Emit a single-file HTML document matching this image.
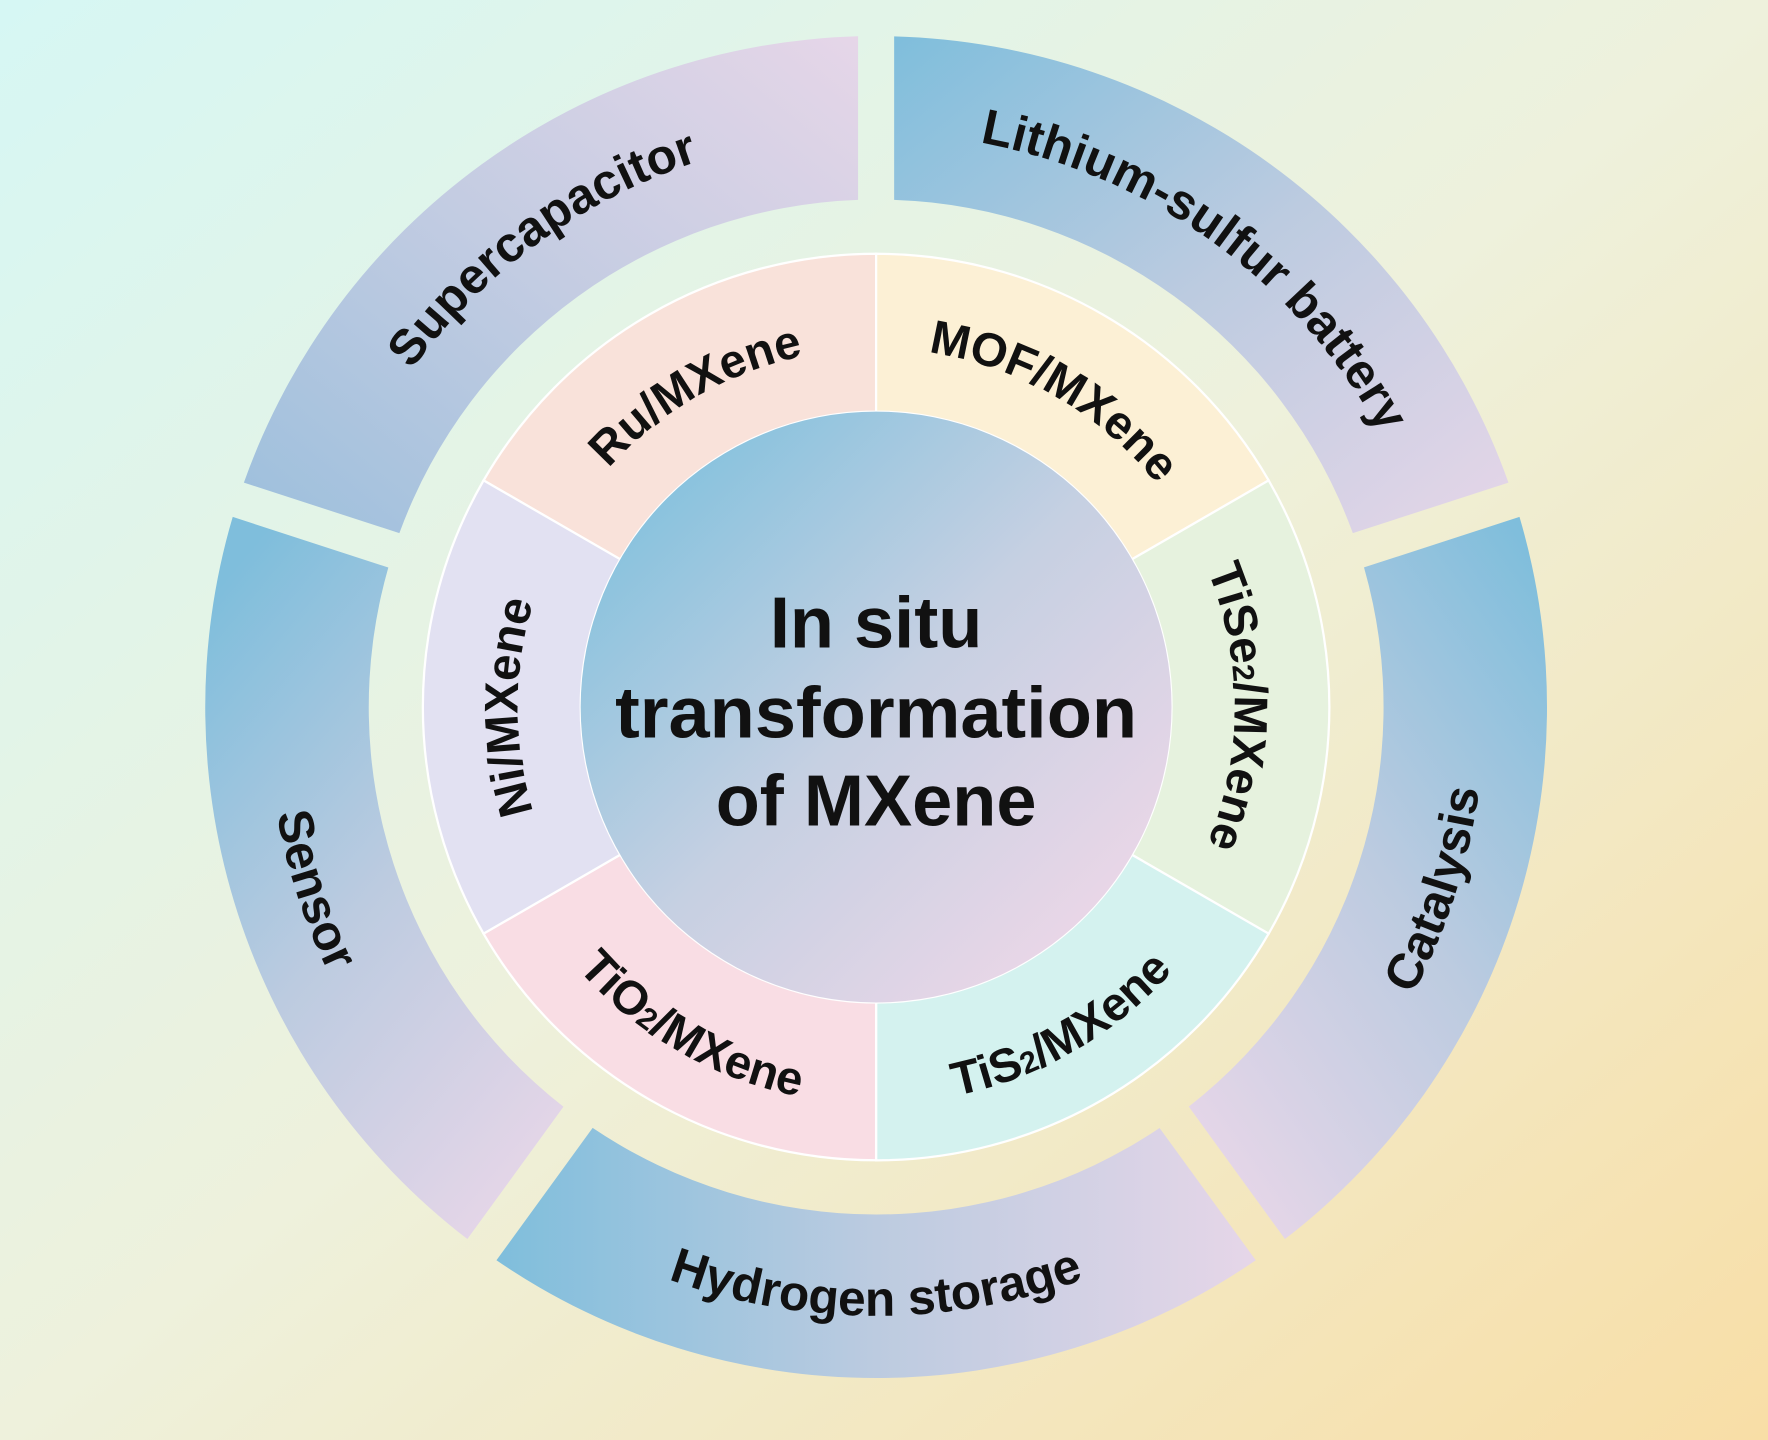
<!DOCTYPE html>
<html><head><meta charset="utf-8"><style>html,body{margin:0;padding:0;width:1768px;height:1440px;overflow:hidden}svg{display:block;position:absolute;left:0;top:0}text{font-family:"Liberation Sans",Arial,sans-serif;font-weight:bold;fill:#111}</style></head><body>
<svg width="1768" height="1440" viewBox="0 0 1568 1277" preserveAspectRatio="none" xmlns="http://www.w3.org/2000/svg">
<defs>
<linearGradient id="bg" x1="0" y1="0" x2="1" y2="1"><stop offset="0" stop-color="#d6f7f4"/><stop offset="0.5" stop-color="#eef1dc"/><stop offset="1" stop-color="#f8dea6"/></linearGradient>
<linearGradient id="g1" x1="0" y1="1" x2="1" y2="0"><stop offset="0" stop-color="#9cbfdc"/><stop offset="0.5" stop-color="#c3cce2"/><stop offset="1" stop-color="#e6d6e8"/></linearGradient>
<linearGradient id="g2" x1="0" y1="0" x2="1" y2="1"><stop offset="0" stop-color="#7fbedc"/><stop offset="0.5" stop-color="#bccbe0"/><stop offset="1" stop-color="#e6d6e8"/></linearGradient>
<linearGradient id="g3" x1="0.9" y1="0" x2="0.2" y2="1"><stop offset="0" stop-color="#7fbedc"/><stop offset="0.5" stop-color="#bccbe0"/><stop offset="1" stop-color="#e6d6e8"/></linearGradient>
<linearGradient id="g4" x1="0" y1="0.5" x2="1" y2="0.5"><stop offset="0" stop-color="#7fbedc"/><stop offset="0.5" stop-color="#bccbe0"/><stop offset="1" stop-color="#e6d6e8"/></linearGradient>
<linearGradient id="g5" x1="0.2" y1="0" x2="0.8" y2="1"><stop offset="0" stop-color="#7fbedc"/><stop offset="0.5" stop-color="#bccbe0"/><stop offset="1" stop-color="#e6d6e8"/></linearGradient>
<linearGradient id="cg" x1="0.15" y1="0.15" x2="0.85" y2="0.85"><stop offset="0" stop-color="#8bc3de"/><stop offset="0.5" stop-color="#c6d0e2"/><stop offset="1" stop-color="#e8d6e7"/></linearGradient>
<path id="cwo" d="M268,627 A509 509 0 0 1 1286,627"/>
<path id="ccwo" d="M237,627 A540 540 0 0 0 1317,627"/>
<path id="cwi" d="M459,627 A318 318 0 0 1 1095,627"/>
<path id="ccwi" d="M425,627 A352 352 0 0 0 1129,627"/>
<path id="sec" d="M428.9,426 A402 402 0 0 1 777,225 L777,365 A262 262 0 0 0 550.1,496 Z"/>
</defs>
<rect width="1568" height="1277" fill="url(#bg)"/>
<path fill="url(#g1)" d="M216.3,428 A595 595 0 0 1 761,32.2 L761,177.3 A450 450 0 0 0 354.2,472.8 Z"/>
<path fill="url(#g2)" d="M793,32.3 A595 595 0 0 1 1337.8,428 L1199.8,472.8 A450 450 0 0 0 793,177.2 Z"/>
<path fill="url(#g3)" d="M1347.6,458.4 A595 595 0 0 1 1139.6,1098.8 L1054.3,981.4 A450 450 0 0 0 1209.7,503.2 Z"/>
<path fill="url(#g4)" d="M1113.7,1117.6 A595 595 0 0 1 440.3,1117.6 L525.6,1000.2 A450 450 0 0 0 1028.4,1000.3 Z"/>
<path fill="url(#g5)" d="M414.5,1098.8 A595 595 0 0 1 206.4,458.4 L344.4,503.3 A450 450 0 0 0 499.7,981.5 Z"/>
<g stroke="#fff" stroke-width="2">
<use href="#sec" fill="#f9e2da"/>
<use href="#sec" fill="#fcf0d5" transform="rotate(60 777 627)"/>
<use href="#sec" fill="#e6f2de" transform="rotate(120 777 627)"/>
<use href="#sec" fill="#d4f2ef" transform="rotate(180 777 627)"/>
<use href="#sec" fill="#f9dde4" transform="rotate(240 777 627)"/>
<use href="#sec" fill="#e2e1f2" transform="rotate(300 777 627)"/>
</g>
<circle cx="777" cy="627" r="262" fill="url(#cg)"/>
<g font-size="44">
<text transform="rotate(-36 777 627)"><textPath href="#cwo" startOffset="50%" text-anchor="middle">Supercapacitor</textPath></text>
<text transform="rotate(36 777 627)"><textPath href="#cwo" startOffset="50%" text-anchor="middle">Lithium-sulfur battery</textPath></text>
<text transform="rotate(-72 777 627)"><textPath href="#ccwo" startOffset="50%" text-anchor="middle">Catalysis</textPath></text>
<text><textPath href="#ccwo" startOffset="50%" text-anchor="middle">Hydrogen storage</textPath></text>
<text transform="rotate(72 777 627)"><textPath href="#ccwo" startOffset="50%" text-anchor="middle">Sensor</textPath></text>
</g>
<g font-size="42">
<text transform="rotate(-30 777 627)"><textPath href="#cwi" startOffset="50%" text-anchor="middle">Ru/MXene</textPath></text>
<text transform="rotate(30 777 627)"><textPath href="#cwi" startOffset="50%" text-anchor="middle">MOF/MXene</textPath></text>
<text transform="rotate(90 777 627)"><textPath href="#cwi" startOffset="50%" text-anchor="middle">TiSe<tspan font-size="27">2</tspan>/MXene</textPath></text>
<text transform="rotate(-90 777 627)"><textPath href="#cwi" startOffset="50%" text-anchor="middle">Ni/MXene</textPath></text>
<text transform="rotate(-30 777 627)"><textPath href="#ccwi" startOffset="50%" text-anchor="middle">TiS<tspan font-size="27">2</tspan>/MXene</textPath></text>
<text transform="rotate(30 777 627)"><textPath href="#ccwi" startOffset="50%" text-anchor="middle">TiO<tspan font-size="27">2</tspan>/MXene</textPath></text>
</g>
<g font-size="64" text-anchor="middle">
<text x="777" y="574">In situ</text>
<text x="777" y="654" textLength="463" lengthAdjust="spacingAndGlyphs">transformation</text>
<text x="777" y="732">of MXene</text>
</g>
</svg>
</body></html>
